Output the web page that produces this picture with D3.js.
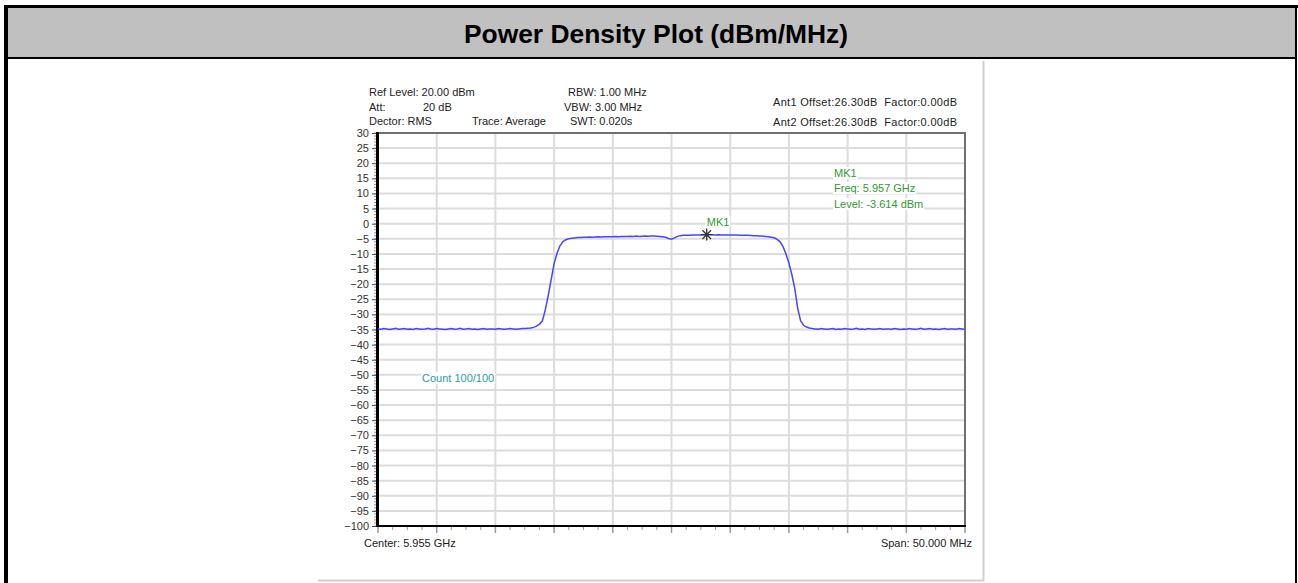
<!DOCTYPE html>
<html><head><meta charset="utf-8">
<script src="https://cdn.jsdelivr.net/npm/d3@7"></script>
<style>body{margin:0;background:#fff}svg{display:block}text{white-space:pre}</style>
</head><body>
<svg id="c" width="1298" height="583"></svg>
<script>
const title = "Power Density Plot (dBm/MHz)";
const centerGHz = 5.955, spanMHz = 50;
const stepMHz = 0.25;
const yTicks = [30,25,20,15,10,5,0,-5,-10,-15,-20,-25,-30,-35,-40,-45,-50,-55,-60,-65,-70,-75,-80,-85,-90,-95,-100];
const levels = [
-34.8,-34.9,-34.7,-34.8,-35.0,-34.8,-34.6,-34.9,-34.8,-34.7,
-34.9,-34.8,-35.0,-34.7,-34.8,-34.9,-34.8,-34.6,-34.8,-34.9,
-34.7,-34.8,-34.9,-35.0,-34.8,-34.7,-34.9,-34.8,-34.6,-34.9,
-34.8,-34.7,-34.9,-34.8,-35.0,-34.8,-34.7,-34.9,-34.8,-34.8,
-34.9,-34.7,-34.8,-34.9,-34.8,-34.7,-34.8,-34.9,-34.8,-34.7,
-34.7,-34.6,
-34.5,-34.3,-33.9,-33.2,-32.2,-28.5,-23.8,-18.5,-13.2,-9.8,-7.3,-5.9,-5.3,-5.0,-4.8,-4.7,-4.6,-4.55,
-4.5,-4.5,-4.4,-4.45,-4.4,-4.35,-4.4,-4.3,-4.35,-4.3,
-4.3,-4.25,-4.3,-4.2,-4.25,-4.2,-4.15,-4.2,-4.1,-4.2,
-4.15,-4.1,-4.15,-4.1,-4.1,-4.15,-4.2,-4.3,
-4.5,-4.9,-5.1,-4.7,-4.2,-3.95,
-3.85,-3.8,-3.8,-3.75,-3.7,-3.75,-3.7,-3.65,-3.61,-3.65,-3.65,-3.7,
-3.65,-3.7,-3.7,-3.75,-3.7,-3.75,-3.75,-3.8,-3.8,-3.85,-3.85,-3.9,
-3.95,-4.0,-4.05,-4.1,-4.2,-4.3,-4.45,-4.65,
-5.2,-6.0,-7.6,-10.0,-13.0,-16.8,-21.5,-28.0,-32.2,-33.6,-34.2,-34.5,-34.7,
-34.8,-34.9,-34.7,-34.8,-34.9,-34.8,-34.7,-35.0,-34.8,-34.9,
-34.7,-34.8,-34.9,-34.8,-34.6,-34.9,-34.8,-35.0,-34.7,-34.8,
-34.9,-34.8,-34.7,-34.9,-34.8,-34.8,-34.9,-34.7,-34.8,-35.0,
-34.8,-34.9,-34.7,-34.8,-34.9,-34.8,-34.6,-34.9,-34.8,-34.7,
-34.9,-34.8,-35.0,-34.8,-34.7,-34.9,-34.8,-34.8,-34.9,-34.7,
-34.8,-34.9
];
const markerName = "MK1";
const markerFreqGHz = 5.958;
const markerLevel = -3.614;
const infoLeft = ["Ref Level: 20.00 dBm","Att:","Dector: RMS"];
const infoMid = ["RBW: 1.00 MHz","VBW: 3.00 MHz","SWT: 0.020s"];
const infoRight = ["Ant1 Offset:26.30dB  Factor:0.00dB","Ant2 Offset:26.30dB  Factor:0.00dB"];

const svg = d3.select("#c");
const FONT = "'Liberation Sans', Arial, sans-serif";

// outer frame
svg.append("rect").attr("x",8).attr("y",8).attr("width",1287).attr("height",49).attr("fill","#c0c0c0");
svg.append("rect").attr("x",5).attr("y",5).attr("width",1293).attr("height",3).attr("fill","#000");
svg.append("rect").attr("x",5).attr("y",57).attr("width",1292).attr("height",2).attr("fill","#000");
svg.append("rect").attr("x",4).attr("y",5).attr("width",4).attr("height",578).attr("fill","#000");
svg.append("rect").attr("x",1295).attr("y",5).attr("width",2).attr("height",578).attr("fill","#000");
svg.append("text").attr("x",656).attr("y",43).attr("text-anchor","middle")
  .attr("font-family",FONT).attr("font-weight","bold").attr("font-size",26.4).text(title);

// image frame
svg.append("line").attr("x1",983.5).attr("x2",983.5).attr("y1",61).attr("y2",581).attr("stroke","#cfcfcf").attr("stroke-width",2);
svg.append("line").attr("x1",318).attr("x2",984).attr("y1",580.5).attr("y2",580.5).attr("stroke","#cfcfcf").attr("stroke-width",2);

const x0 = (centerGHz*1000 - spanMHz/2)/1000, x1 = (centerGHz*1000 + spanMHz/2)/1000;
const x = d3.scaleLinear().domain([x0, x1]).range([378, 965]);
const y = d3.scaleLinear().domain([-100, 30]).range([526, 133]);

// grid
const vTicks = d3.range(0, 11).map(i => x0 + i*(spanMHz/10)/1000);
svg.append("g").selectAll("line").data(yTicks.filter(v=>v>-100 && v<30)).join("line")
  .attr("x1",378).attr("x2",965).attr("y1",d=>y(d)).attr("y2",d=>y(d))
  .attr("stroke","#dcdcdc").attr("stroke-width",2);
svg.append("g").selectAll("line").data(vTicks.slice(1,10)).join("line")
  .attr("x1",d=>x(d)).attr("x2",d=>x(d)).attr("y1",133).attr("y2",526)
  .attr("stroke","#dcdcdc").attr("stroke-width",2);

// borders
svg.append("line").attr("x1",378).attr("x2",966).attr("y1",133).attr("y2",133).attr("stroke","#707070").attr("stroke-width",2);
svg.append("line").attr("x1",965).attr("x2",965).attr("y1",132).attr("y2",527).attr("stroke","#707070").attr("stroke-width",2);

// y axis
const yAxis = d3.axisLeft(y).tickValues(yTicks).tickSize(5).tickFormat(d3.format("d"));
const ga = svg.append("g").attr("transform","translate(377,0)").call(yAxis);
ga.select(".domain").remove();
ga.selectAll("text").attr("font-family",FONT).attr("font-size",11).attr("fill","#333").attr("x",-8);
ga.selectAll("line").attr("stroke","#444");
svg.append("g").selectAll("line").data(d3.range(-100,31,1)).join("line")
  .attr("x1",374).attr("x2",377).attr("y1",d=>y(d)).attr("y2",d=>y(d)).attr("stroke","#777").attr("stroke-width",0.8);

// x axis ticks
const xMinor = d3.range(0, 41).map(i => x0 + i*(spanMHz/40)/1000);
svg.append("g").selectAll("line").data(xMinor).join("line")
  .attr("x1",d=>x(d)).attr("x2",d=>x(d)).attr("y1",526).attr("y2",(d,i)=> i%4===0 ? 533 : 530)
  .attr("stroke","#999").attr("stroke-width",(d,i)=> i%4===0 ? 1.5 : 1);

svg.append("line").attr("x1",377).attr("x2",966).attr("y1",526).attr("y2",526).attr("stroke","#000").attr("stroke-width",2);
svg.append("line").attr("x1",377.5).attr("x2",377.5).attr("y1",132).attr("y2",527).attr("stroke","#000").attr("stroke-width",3);

// trace
const line = d3.line().x((d,i)=>x(x0 + i*stepMHz/1000)).y(d=>y(d));
svg.append("path").datum(levels).attr("d",line).attr("fill","none")
  .attr("stroke","#4646ff").attr("stroke-width",1.5);

// marker
const mx = x(markerFreqGHz), my = y(markerLevel);
svg.append("path").attr("transform",`translate(${mx},${my})`)
  .attr("d","M-6,0H6M0,-6V6M-4.3,-4.3L4.3,4.3M-4.3,4.3L4.3,-4.3")
  .attr("stroke","#333").attr("stroke-width",1.3);

function label(tx, ty, str, color, anchor){
  const t = svg.append("text").attr("x",tx).attr("y",ty).attr("font-family",FONT)
    .attr("font-size",11).attr("fill",color).attr("text-anchor",anchor||"start").text(str);
  if (color !== "#222") {
    const b = t.node().getBBox();
    svg.insert("rect", () => t.node()).attr("x",b.x-1).attr("y",b.y).attr("width",b.width+2).attr("height",b.height).attr("fill","#fff");
  }
  return t;
}
label(mx, my-9, markerName, "#2e9a2e");
label(834, 177, markerName, "#2e9a2e");
label(834, 192, "Freq: " + (markerFreqGHz-0.001).toFixed(3) + " GHz", "#2e9a2e");
label(834, 208, "Level: " + markerLevel.toFixed(3) + " dBm", "#2e9a2e");
label(422, 382, "Count 100/100", "#2a9d9d");

// info texts
infoLeft.forEach((s,i)=>label(369, 96 + i*14.5, s, "#222"));
label(423, 110.5, "20 dB", "#222");
label(472, 125, "Trace: Average", "#222");
infoMid.forEach((s,i)=>label(i===1?564:568+ (i===2?2:0), 96 + i*14.5, s, "#222"));
infoRight.forEach((s,i)=>label(773, 105.5 + i*20, s, "#222").attr("textLength",184).attr("lengthAdjust","spacing"));
label(364, 547, "Center: " + centerGHz.toFixed(3) + " GHz", "#222");
label(972, 547, "Span: " + spanMHz.toFixed(3) + " MHz", "#222", "end");
</script>
</body></html>
